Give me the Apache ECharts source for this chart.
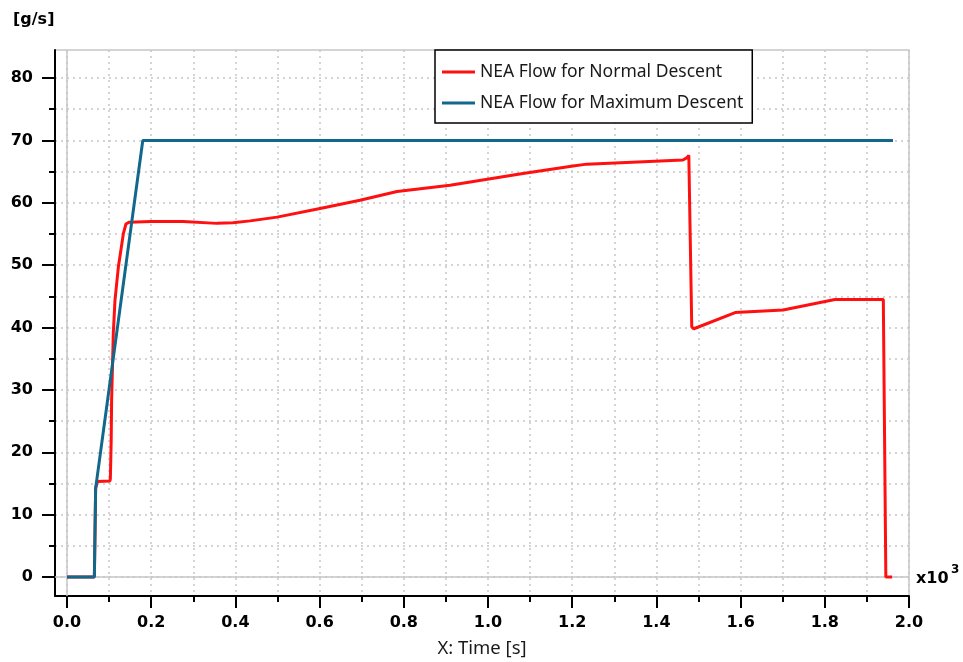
<!DOCTYPE html>
<html>
<head>
<meta charset="utf-8">
<script src="https://cdn.jsdelivr.net/npm/echarts@6/dist/echarts.min.js"></script>
<style>
    html, body { margin: 0; padding: 0; background: #fff; }
    #flowChart { width: 963px; height: 662px; }
</style>
</head>
<body>
<div id="flowChart"></div>
<script>
    // 时间 [s]，曲线数据
    const normalTime = [0, 65, 68, 72, 102, 103, 105, 106, 110, 114, 122, 134, 140, 148, 200, 276, 356, 394, 435, 499, 601, 696, 784, 910, 1083, 1202, 1235, 1463, 1472, 1477, 1484, 1489, 1587, 1701, 1824, 1939, 1945, 1960]
    const normalFlow = [0, 0, 14.2, 15.3, 15.4, 15.8, 22, 28.4, 39.1, 44.4, 49.7, 55.1, 56.6, 56.9, 57.0, 57.0, 56.7, 56.8, 57.1, 57.7, 59.1, 60.4, 61.8, 62.8, 64.7, 65.9, 66.2, 66.85, 67.2, 67.6, 40.1, 39.8, 42.4, 42.8, 44.5, 44.5, 0, 0]
    const maxTime = [0, 65, 68, 180, 1962]
    const maxFlow = [0, 0, 14.2, 70, 70]

    // 刻度
    const xMajorTicks = [0, 200, 400, 600, 800, 1000, 1200, 1400, 1600, 1800, 2000]
    const xMinorTicks = [100, 300, 500, 700, 900, 1100, 1300, 1500, 1700, 1900]
    const yMajorTicks = [0, 10, 20, 30, 40, 50, 60, 70, 80]
    const yMinorTicks = [5, 15, 25, 35, 45, 55, 65, 75]

    const seriesNames = ['NEA Flow for Normal Descent', 'NEA Flow for Maximum Descent']

    const xMin = -28.5, xMax = 2000
    const yMin = -3.05, yMax = 84.5

    const gridLine = { show: true, lineStyle: { color: '#c6c6c6', type: [2, 4], width: 1.5 } }
    const boldFont = 'DejaVu Sans'
    const plainFont = 'Noto Sans'

    function zip(xs, ys) {
        return xs.map((x, i) => [x, ys[i]])
    }

    const myChart = echarts.init(document.getElementById('flowChart'))

    const option = {
        animation: false,
        backgroundColor: '#fff',
        grid: [
            // 主坐标系
            { left: 55, right: 54, top: 50, bottom: 66, outerBoundsMode: 'none', show: true, borderColor: '#c6c6c6', borderWidth: 1.5, backgroundColor: 'transparent' },
            // 次刻度用的坐标系（与主坐标系重叠）
            { left: 55, right: 54, top: 50, bottom: 66, outerBoundsMode: 'none' }
        ],
        xAxis: [
            {
                type: 'value', gridIndex: 0, min: xMin, max: xMax,
                name: 'X: Time [s]', nameLocation: 'middle', nameGap: 43,
                nameTextStyle: { fontSize: 18.5, color: '#1a1a1a', fontFamily: plainFont },
                axisLine: { show: true, onZero: false, lineStyle: { color: '#000', width: 2 } },
                axisTick: { show: true, length: 12, customValues: xMajorTicks, lineStyle: { color: '#000', width: 2 } },
                axisLabel: {
                    customValues: xMajorTicks, margin: 19, color: '#000', fontWeight: 'bold', fontSize: 16, fontFamily: boldFont,
                    formatter: v => (v / 1000).toFixed(1)
                },
                splitLine: gridLine
            },
            {
                type: 'value', gridIndex: 1, min: xMin, max: xMax,
                axisLine: { show: false, onZero: false },
                axisTick: { show: true, length: 6, customValues: xMinorTicks, lineStyle: { color: '#000', width: 2 } },
                axisLabel: { show: false },
                splitLine: gridLine
            }
        ],
        yAxis: [
            {
                type: 'value', gridIndex: 0, min: yMin, max: yMax,
                axisLine: { show: true, onZero: false, lineStyle: { color: '#000', width: 2 } },
                axisTick: { show: true, length: 13, customValues: yMajorTicks, lineStyle: { color: '#000', width: 2 } },
                axisLabel: { customValues: yMajorTicks, margin: 22, color: '#000', fontWeight: 'bold', fontSize: 16, fontFamily: boldFont },
                splitLine: gridLine
            },
            {
                type: 'value', gridIndex: 1, min: yMin, max: yMax,
                axisLine: { show: false, onZero: false },
                axisTick: { show: true, length: 6, customValues: yMinorTicks, lineStyle: { color: '#000', width: 2 } },
                axisLabel: { show: false },
                splitLine: gridLine
            }
        ],
        legend: {
            data: seriesNames,
            orient: 'vertical',
            left: 435, top: 50,
            padding: [13, 9, 11, 7],
            itemGap: 13,
            itemWidth: 33, itemHeight: 3,
            icon: 'rect',
            backgroundColor: '#fff',
            borderColor: '#000', borderWidth: 1.5,
            textStyle: { fontSize: 17.5, color: '#1a1a1a', fontFamily: plainFont }
        },
        graphic: [
            { type: 'text', left: 13, top: 12, style: { text: '[g/s]', font: 'bold 16px "DejaVu Sans"', fill: '#000' } },
            { type: 'text', left: 916, top: 571, style: { text: 'x10', font: 'bold 16px "DejaVu Sans"', fill: '#000' } },
            { type: 'text', left: 951, top: 564, style: { text: '3', font: 'bold 12px "DejaVu Sans"', fill: '#000' } }
        ],
        series: [
            {
                // 零线（灰色实线），放在曲线下面
                type: 'line', xAxisIndex: 0, yAxisIndex: 0, data: [], z: 1,
                markLine: {
                    silent: true, symbol: 'none', label: { show: false }, z: 1,
                    lineStyle: { color: '#c6c6c6', type: 'solid', width: 1.5 },
                    data: [{ xAxis: 0 }, { yAxis: 0 }]
                }
            },
            {
                name: seriesNames[0], type: 'line', xAxisIndex: 0, yAxisIndex: 0, z: 3,
                showSymbol: false, color: '#ff1010',
                lineStyle: { width: 3, color: '#ff1010' },
                data: zip(normalTime, normalFlow)
            },
            {
                name: seriesNames[1], type: 'line', xAxisIndex: 0, yAxisIndex: 0, z: 4,
                showSymbol: false, color: '#11688a',
                lineStyle: { width: 3, color: '#11688a' },
                data: zip(maxTime, maxFlow)
            }
        ]
    }

    myChart.setOption(option)
    window.addEventListener('resize', function () {
        myChart.resize()
    })
</script>
</body>
</html>
